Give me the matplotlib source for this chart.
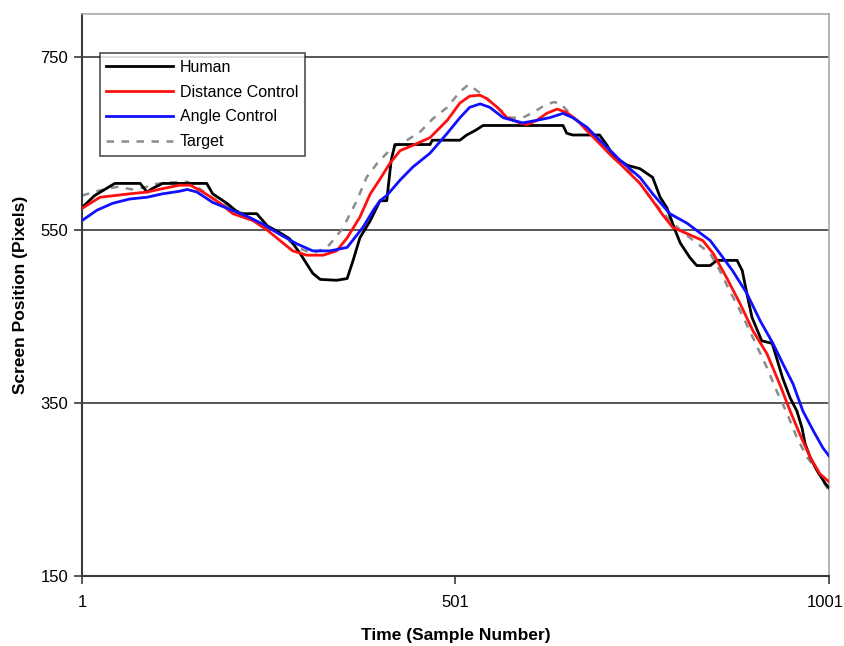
import matplotlib.pyplot as plt
import matplotlib.transforms as mtransforms

plt.rcParams['font.family'] = ['Liberation Sans', 'DejaVu Sans']

# sample numbers and screen positions
human_x = [1, 18, 45, 79, 88, 95, 109, 168, 176, 195, 212, 235, 249, 266, 279, 293, 310, 320,
           342, 356, 364, 373, 387, 400, 409, 415, 420, 467, 470, 507, 516, 527, 538, 645,
           650, 658, 694, 704, 712, 731, 748, 765, 775, 784, 795, 802, 815, 824, 842, 851,
           878, 885, 891, 898, 911, 925, 931, 939, 949, 958, 965, 969, 976, 985, 996, 1001]
human_y = [576, 590, 604, 604, 594, 598, 604, 604, 592, 581, 569, 569, 555, 547, 540, 523, 500, 493,
           492, 494, 515, 541, 561, 584, 584, 631, 649, 649, 654, 654, 660, 665, 671, 671,
           662, 660, 660, 648, 636, 625, 621, 611, 588, 576, 550, 535, 518, 509, 509, 515,
           515, 503, 477, 449, 422, 419, 402, 379, 356, 341, 321, 303, 287, 272, 257, 252]

dist_x = [1, 25, 65, 88, 109, 132, 146, 163, 186, 203, 230, 249, 266, 283, 302, 324, 342, 356,
          373, 387, 400, 413, 427, 444, 467, 490, 507, 520, 534, 543, 557, 570, 587, 597, 610,
          623, 637, 650, 664, 677, 694, 712, 721, 748, 765, 779, 792, 811, 832, 846, 864, 882,
          899, 918, 935, 949, 962, 976, 989, 1001]
dist_y = [575, 588, 592, 594, 598, 602, 602, 594, 581, 569, 561, 550, 538, 526, 521, 521, 526, 541,
          565, 592, 609, 627, 642, 648, 657, 677, 697, 705, 706, 702, 692, 680, 674, 672, 677,
          685, 690, 686, 677, 665, 650, 634, 627, 604, 584, 567, 553, 546, 538, 523, 495, 465,
          434, 407, 372, 341, 314, 287, 268, 259]

angle_x = [1, 21, 42, 65, 88, 109, 132, 142, 155, 176, 199, 222, 243, 266, 289, 310, 333, 356,
           377, 391, 400, 409, 427, 444, 467, 490, 507, 520, 534, 547, 565, 578, 591, 610, 627,
           645, 658, 677, 694, 712, 721, 748, 765, 788, 811, 828, 842, 855, 872, 891, 909, 926,
           939, 953, 966, 980, 993, 1001]
angle_y = [561, 573, 581, 586, 588, 592, 595, 597, 594, 582, 574, 566, 557, 545, 534, 526, 526, 530,
           553, 573, 584, 590, 608, 623, 639, 662, 680, 692, 696, 692, 680, 677, 674, 677, 680,
           685, 680, 669, 654, 639, 631, 611, 592, 569, 558, 547, 538, 523, 503, 477, 445, 419,
           396, 372, 341, 318, 298, 289]

target_x = [1, 25, 48, 69, 88, 96, 115, 142, 155, 176, 199, 222, 243, 266, 289, 310, 329, 337,
            350, 360, 369, 382, 396, 417, 436, 453, 471, 490, 507, 518, 524, 538, 557, 574, 591,
            605, 618, 632, 641, 654, 672, 690, 712, 721, 748, 765, 784, 802, 824, 842, 855, 868,
            882, 899, 918, 931, 945, 958, 972, 985, 1001]
target_y = [590, 596, 600, 597, 600, 603, 605, 606, 600, 587, 576, 567, 555, 546, 530, 523, 530, 538,
            552, 569, 584, 611, 627, 646, 654, 663, 679, 692, 710, 718, 715, 706, 692, 680, 680,
            686, 693, 698, 697, 685, 669, 654, 634, 631, 604, 584, 565, 550, 535, 523, 503, 480,
            457, 426, 391, 364, 338, 310, 287, 272, 248]

y_ticks = [150, 350, 550, 750]
x_ticks = [1, 501, 1001]

fig = plt.figure(figsize=(8.45, 6.46), dpi=100)
ax = fig.add_axes([0.097, 0.1084, 0.884, 0.870])

for v in y_ticks[1:]:
    ax.axhline(v, color='#3a3a3a', lw=1.2, zorder=1)

ax.plot(target_x, target_y, color='#8c8c8c', lw=1.8, ls=(0, (3, 3)), label='Target', zorder=2)
ax.plot(human_x, human_y, color='black', lw=2.0, label='Human', zorder=3)
ax.plot(dist_x, dist_y, color='#ff1010', lw=2.0, label='Distance Control', zorder=4)
ax.plot(angle_x, angle_y, color='#1010ff', lw=2.0, label='Angle Control', zorder=5)

ax.set_xlim(1, 1001)
ax.set_ylim(150, 800)
ax.set_xticks(x_ticks)
ax.set_yticks(y_ticks)
ax.tick_params(labelsize=12, length=6, width=1.2, color='#3a3a3a', pad=4)
ax.tick_params(axis='x', pad=8)

# nudge the last x label so it stays inside the figure
last = ax.get_xticklabels()[-1]
last.set_transform(last.get_transform() + mtransforms.ScaledTranslation(-4 / 100, 0, fig.dpi_scale_trans))

for side in ['left', 'bottom']:
    ax.spines[side].set_color('#3a3a3a')
    ax.spines[side].set_linewidth(1.5)
for side in ['top', 'right']:
    ax.spines[side].set_color('#a8a8a8')
    ax.spines[side].set_linewidth(1.2)

ax.set_xlabel('Time (Sample Number)', fontsize=12.5, fontweight='bold', labelpad=13)
ax.set_ylabel('Screen Position (Pixels)', fontsize=12.5, fontweight='bold', labelpad=9)

handles, labels = ax.get_legend_handles_labels()
order = [1, 2, 3, 0]
leg = ax.legend([handles[i] for i in order], [labels[i] for i in order],
                loc='upper left', bbox_to_anchor=(0.024, 0.93), fontsize=11.5,
                frameon=True, fancybox=False, edgecolor='#222222',
                handlelength=4.2, handletextpad=0.4, labelspacing=0.62,
                borderpad=0.4, borderaxespad=0)
leg.get_frame().set_linewidth(1.2)

fig.savefig('out.png', dpi=100)
